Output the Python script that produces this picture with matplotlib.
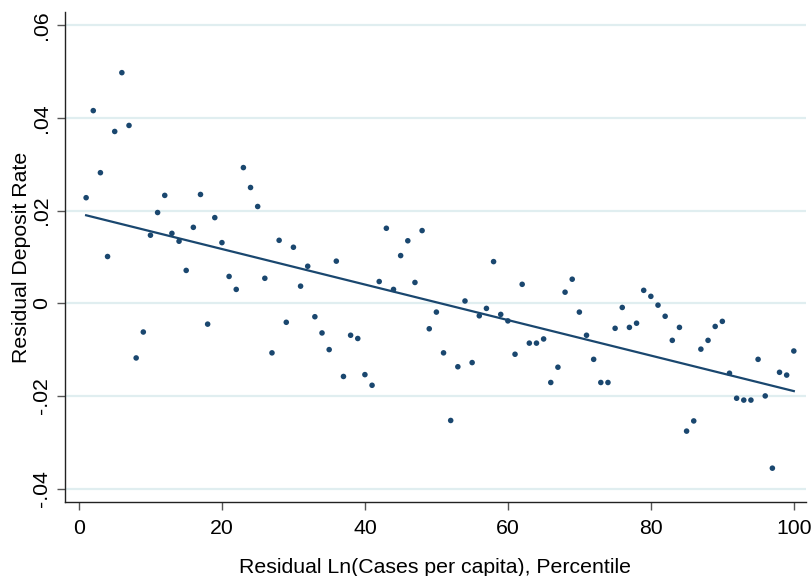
import numpy as np
import matplotlib.pyplot as plt
from matplotlib.ticker import FuncFormatter

plt.rcParams['font.family'] = ['Liberation Sans', 'DejaVu Sans']

# Binned scatter: percentile bins 1..100 and residual deposit rate
pct = np.arange(1, 101)
rate = [
    0.0228, 0.0416, 0.0282, 0.0101, 0.0371, 0.0498, 0.0384, -0.0118, -0.0062, 0.0147,
    0.0196, 0.0233, 0.0151, 0.0134, 0.0071, 0.0164, 0.0235, -0.0045, 0.0185, 0.0131,
    0.0058, 0.0030, 0.0293, 0.0250, 0.0209, 0.0054, -0.0107, 0.0136, -0.0041, 0.0121,
    0.0037, 0.0080, -0.0029, -0.0064, -0.0100, 0.0091, -0.0158, -0.0069, -0.0076, -0.0154,
    -0.0177, 0.0047, 0.0162, 0.0030, 0.0103, 0.0135, 0.0045, 0.0157, -0.0055, -0.0019,
    -0.0107, -0.0253, -0.0137, 0.0005, -0.0128, -0.0027, -0.0011, 0.0090, -0.0024, -0.0038,
    -0.0110, 0.0041, -0.0086, -0.0086, -0.0077, -0.0171, -0.0138, 0.0024, 0.0052, -0.0019,
    -0.0069, -0.0121, -0.0171, -0.0171, -0.0054, -0.0009, -0.0052, -0.0043, 0.0028, 0.0015,
    -0.0004, -0.0028, -0.0080, -0.0052, -0.0276, -0.0254, -0.0099, -0.0080, -0.0050, -0.0039,
    -0.0151, -0.0205, -0.0209, -0.0209, -0.0121, -0.0200, -0.0356, -0.0149, -0.0155, -0.0103,
]
x_ticks = [0, 20, 40, 60, 80, 100]
y_ticks = [-0.04, -0.02, 0, 0.02, 0.04, 0.06]

navy = "#1a476f"

fig = plt.figure(figsize=(8.11, 5.76), dpi=100)
ax = fig.add_axes([0.0801, 0.1285, 0.9137, 0.8507])

# Linear fit line
slope, intercept = np.polyfit(pct, rate, 1)
xf = np.array([pct[0], pct[-1]])
ax.plot(xf, intercept + slope * xf, color=navy, lw=1.6, zorder=3)
ax.scatter(pct, rate, s=16, color=navy, edgecolors="none", zorder=4)

ax.set_xlim(-1.96, 101.7)
ax.set_ylim(-0.0429, 0.0629)
ax.set_xticks(x_ticks)
ax.set_yticks(y_ticks)

def stata_fmt(v, pos):
    if abs(v) < 1e-9:
        return "0"
    s = "%.2f" % v
    return s.replace("0.", ".")

ax.yaxis.set_major_formatter(FuncFormatter(stata_fmt))
for lab in ax.get_yticklabels():
    lab.set_rotation(90)
    lab.set_va("center")

ax.grid(axis="y", color="#e0eef0", lw=1.6, zorder=0)
ax.set_axisbelow(True)
for side in ["top", "right"]:
    ax.spines[side].set_visible(False)
for side in ["left", "bottom"]:
    ax.spines[side].set_color("#222222")
    ax.spines[side].set_linewidth(1.0)
ax.tick_params(axis="both", direction="out", length=6, width=1.0, color="#555555",
               labelsize=15.3)
ax.tick_params(axis="x", pad=6)
ax.tick_params(axis="y", pad=4)

ax.set_xlabel("Residual Ln(Cases per capita), Percentile", fontsize=15.3, labelpad=15)
ax.set_ylabel("Residual Deposit Rate", fontsize=15.3, labelpad=1)

fig.savefig("out.png", dpi=100)
